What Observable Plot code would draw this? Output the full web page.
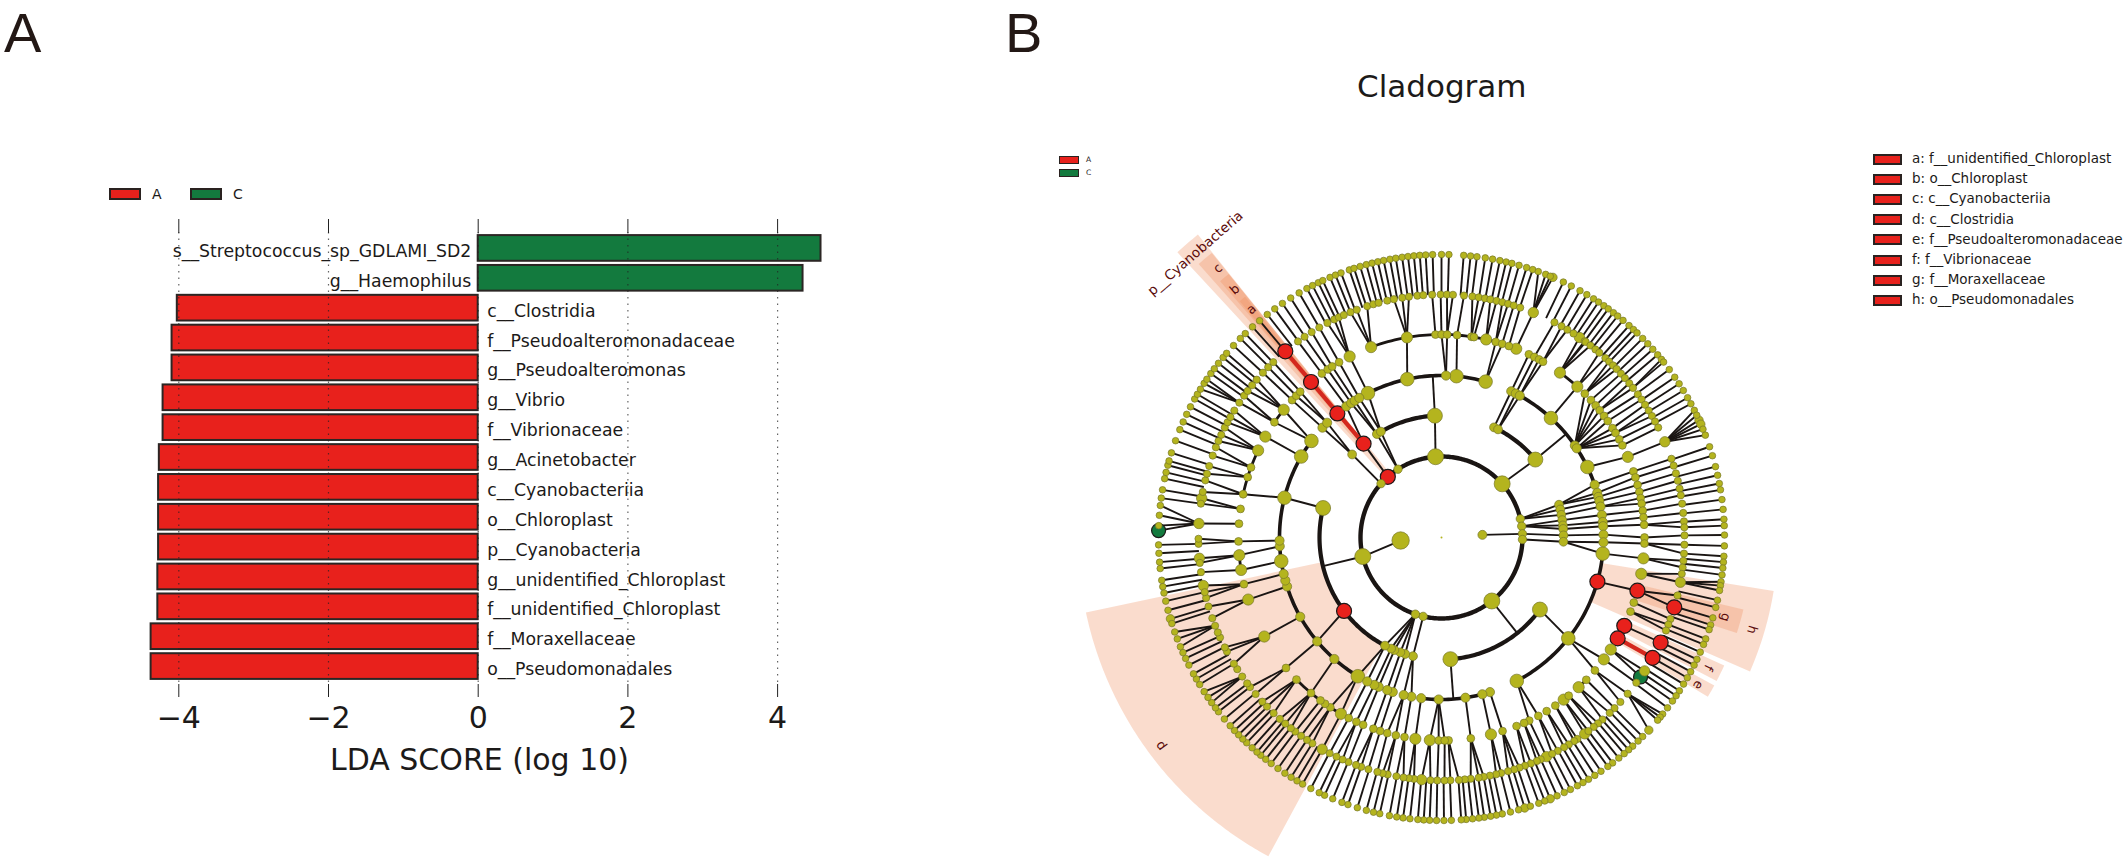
<!DOCTYPE html>
<html><head><meta charset="utf-8">
<script src="https://cdn.jsdelivr.net/npm/d3@7"></script>
<script src="https://cdn.jsdelivr.net/npm/@observablehq/plot@0.6"></script>
<style>
html,body{margin:0;padding:0;background:#fff;}
#page{position:relative;width:2125px;height:860px;overflow:hidden;font-family:"DejaVu Sans",sans-serif;color:#1c1a19;}
#page svg{position:absolute;top:0;background:transparent;}
.t{position:absolute;white-space:nowrap;line-height:1;}
.s{position:absolute;box-sizing:border-box;border:2px solid #2a2220;}
</style></head><body><div id="page"></div>
<script>
// ---------- Panel A: LDA scores ----------
const taxa = ["s__Streptococcus_sp_GDLAMI_SD2","g__Haemophilus","c__Clostridia","f__Pseudoalteromonadaceae","g__Pseudoalteromonas","g__Vibrio","f__Vibrionaceae","g__Acinetobacter","c__Cyanobacteriia","o__Chloroplast","p__Cyanobacteria","g__unidentified_Chloroplast","f__unidentified_Chloroplast","f__Moraxellaceae","o__Pseudomonadales"];
const ldaScores = [4.58,4.34,-4.02,-4.09,-4.09,-4.21,-4.21,-4.26,-4.27,-4.27,-4.27,-4.28,-4.28,-4.37,-4.37];
const ldaTicks = [-4,-2,0,2,4];
const groupColors = {A:"#e8211c", C:"#137a3e"};

// ---------- Panel B: cladogram nodes, by ring, angle in degrees clockwise from top ----------
const ring1 = [-94.2,86.3];
const ring2 = [-166.9,-161.2,-103.6,-48.3,-41.5,-32.5,-4.2,48.5,76.7,82,87.4,91.4,141.6];
const ring3 = [-166.5,-162.7,-160.3,-157.3,-155.6,-152.4,-127,-76,-47.1,-39.7,-32,-29.8,-3.1,25.5,27.6,50.3,74.4,76.7,79.3,81.8,84.3,86,89,92,126.2,175.8];
const ring4 = [-179,-172.8,-169.3,-166.5,-162.5,-160.4,-157.2,-155.5,-152.7,-148.9,-138.6,-129.9,-119.3,-107.6,-105.4,-103,-98.4,-93.1,-91.1,-75.8,-60,-53.4,-47.3,-44.9,-40,-36,-33.9,-32.4,-30.5,-27,-12.2,1.6,5.3,15.8,25.5,27.3,28.9,42.5,55.4,56.6,64.2,71,74,75.5,77,79,82,84.5,86,89,91.7,95.7,105.8,128.5,152.3,162.6,165.4,171.5];
const ring5 = [-179.2,-176.7,-172.6,-169.5,-167,-164.5,-162.4,-160.4,-157.3,-155.2,-152.8,-150.3,-146.8,-145,-143.4,-140,-134.4,-130,-119.2,-107.8,-103.3,-99.2,-95,-91.1,-86.1,-81.9,-77.7,-72.7,-69.8,-64.6,-60.2,-55.4,-51,-47.4,-45.7,-44.1,-40,-36.1,-34.1,-32.6,-30.3,-26.9,-20.3,-9.8,-1.7,0,1.6,4.4,8.5,9.2,12.7,15.5,17.4,19.4,21.6,25.5,27.2,28.7,30,35.7,42,44.9,47.4,49.4,51.2,53.2,55,57.4,59,61.1,63,66.6,71,72.8,75,77,78.8,80.4,82.4,84.3,86.4,90,91.7,95.9,100.3,105.2,108.7,111.4,115.8,119.8,123.5,126.9,130.9,134.5,137.5,141.2,143,145.9,148.8,151.5,154.4,156,158.3,162.5,165.9,171.7,178,179.1];
const ring6 = [-179,-177.4,-175.3,-173.5,-172.3,-171,-169.3,-167.2,-166,-164.7,-162.5,-160.7,-159.4,-157.5,-156,-154.4,-152.6,-150.6,-147.9,-146.4,-144.7,-143,-141.7,-140,-138.3,-136.3,-134.1,-132.5,-130.1,-128,-126.9,-124.9,-122.8,-121.3,-118,-116.9,-114.3,-113,-111.3,-109.4,-106.5,-104.4,-103,-101.4,-98.2,-96,-94.9,-91.5,-90.3,-86.7,-82,-80.7,-79.2,-76.4,-74.8,-72.9,-70.3,-68.2,-66.6,-65,-63.1,-61.7,-60.3,-58.5,-56.3,-54.3,-52.9,-51.2,-49.5,-47.3,-45.5,-43.8,-40,-36.2,-34.3,-32.3,-30.2,-28,-26.2,-25,-23.7,-22,-20.4,-17.8,-16.3,-15,-12.9,-11.3,-9.3,-7.7,-5.7,-4.3,-2.2,-0.2,1.3,2.7,5.3,7.3,8.8,10.3,11.6,13.1,14.5,15.9,17.3,18.9,22.2,27.7,29.6,31.2,32.9,34.6,36.1,36.4,37.8,39.3,40.5,42.4,43.6,44.9,46.1,47.6,49,50.6,52,53.9,55.4,56.9,58.5,60,61.5,63.1,66.8,71.1,72.8,74.7,76.5,78.4,80,82,84.2,86.2,87.6,89.5,91.7,93.8,95.5,97.1,98.6,100.6,103.8,106.7,109.6,111,112.5,115.6,119.7,123.3,125,126.7,130,132.6,134.6,136.2,138.5,139.9,141.2,142.8,143.9,146,146.9,148.4,149.7,151.4,152.9,154.4,155.9,156.9,158.4,159.9,161.3,162.6,164.1,165.8,167,168.5,170,171.2,173.1,174.5,175.9,177.9,179.3];
const ring7 = [-179,-177.6,-176.4,-175.2,-173.6,-172.2,-170.9,-169.4,-167.4,-166.1,-164.6,-162.7,-160.7,-159.4,-157.4,-155.6,-154.4,-152.5,-150.6,-149.3,-147.9,-146.4,-144.7,-143,-141.6,-140.3,-139.3,-138,-136.5,-135.4,-134.2,-133,-131.7,-129.9,-128,-127,-125.7,-124.4,-123,-121.3,-120,-118.8,-116.8,-115.3,-114,-112.7,-111,-109.5,-107.7,-106.7,-104.9,-103,-101.3,-100,-98.7,-96.3,-95,-93.2,-91.5,-88.6,-87.6,-85.5,-83.5,-82,-80.3,-78,-76.7,-75.2,-74.3,-72.6,-70,-67.6,-65.9,-64.2,-62.5,-60.7,-59.6,-58.4,-57,-56,-54.6,-53.4,-52,-50.5,-49.4,-47.3,-45.3,-43.9,-41.9,-40,-38,-36.1,-34.2,-32.2,-30.2,-28.4,-27.1,-25.8,-24.8,-23.2,-22,-20.8,-19,-18,-16.7,-15.4,-14.2,-13,-11.8,-10.5,-9.3,-8,-6.8,-5.6,-4.4,-3.2,-1.8,0,1.5,4.5,5.9,7.2,8.9,10.4,11.9,13.2,14.4,15.9,17.5,18.8,20,21.6,22.6,23.2,25.5,27.3,29.3,30.9,32.5,33.7,35,36.1,37.4,38.5,39.9,41.5,42.7,43.7,45.3,46.8,48.3,49.8,51,51.7,53.6,55.5,57.1,58.7,60.4,61.8,63.3,64.4,65.5,66.4,67.5,68.8,71.3,73.2,75.5,77.3,79,80.3,82.3,84.3,86.3,87.6,89.5,91.7,93.8,95,96.2,97.6,99,99.8,100.8,102.8,104.3,106.5,108,109,111,112.2,113.9,115.5,116.8,118.3,119.7,121.2,122.8,124,125.3,127,128.6,129.4,130.2,132.9,134.7,136,137.5,138.6,139.8,141.2,142.8,144,145.7,147.2,148.7,150,151.3,152.9,154.3,155.9,157.4,158.6,159.9,161.7,162.9,164.2,165.9,167.6,168.8,170,171.3,172.4,173.7,175,176,178,179.5];
const rings = [ring1,ring2,ring3,ring4,ring5,ring6,ring7];
const largeNodes = [[-94.2],[-103.6,-4.2,48.5,141.6],[-76,50.3,126.2,-3.1,175.8],[15.8,42.5,64.2,-148.9,-98.4,128.5,5.3,-75.8,-27,-12.2,152.3,95.7,-53.4,-60],[21.6,35.7,42,66.6,-150.3,-95,-99.2,-107.8,-119.2,100.3,123.5,137.5,143,165.9,-172.6,-176.7,12.7,-26.9,-20.3,-9.8,-64.6,-60.2,-51,95.9,126.9],[-94.9,-101.4,-86.7,-150.6,22.2,66.8,34.6,100.6,123.3,143.9,-175.3,154.4,-80.7],[162.9,157.4,-106.7,65.5,66.4,23.2,132.9]];
const redNodes = [[],[-41.5],[-39.7,-127],[-40,105.8],[-40,105.2,115.8,119.8],[-40,106.7,115.6,119.7],[]];
const greenNodes = [[],[],[],[],[],[125],[-88.6]];
const ringArcs = [[],[[0,360]],[[-152.4,-76],[-32,-3.1],[25.5,50.3],[126.2,175.8]],[[-149,-53.4],[-27,15.8],[25.5,71],[95.7,152.3],[162.6,187.2]],[[-20.3,21.6],[-55.4,-51],[-77.7,-64.6],[35.7,42],[-150.3,-134.4],[134.5,137.5],[-99.2,-95]],[],[]];
// [child ring index, parent angle, first child angle, last child angle]
const fans = [[6,66.8,63.3,68.8],[6,-86.7,-88.6,-83.5],[6,22.2,20,23.2],[6,130,128.6,132.9],[6,-56.3,-58.4,-56],[6,-111.3,-112.7,-109.5],[6,-124.9,-125.7,-123],[6,100.6,99,100.8],[6,52,51,51.7],[4,55.4,44.9,53.2],[4,56.6,55,63],[2,76.7,74.4,79.3],[2,82,81.8,86],[2,-161.2,-160.3,-152.4]];
const rootLinks = [[-103.6,-94.2],[87.4,86.3]];
const highlightLinks = [[2,5,-39.7,-40],[4,5,119.8,119.7]];
const sectors = [["p",-151.6,-102,122,363],["h",99.2,113.5,162,337],["g",103.5,108,203,311],["f",114.4,117.6,203,311],["e",118.5,120.9,203,311],["p_Cyano",-42.8,-38.8,81,388],["c",-41.6,-38.9,122,365],["b",-40.8,-38.9,162,338],["a",-40.5,-39.2,203,310]];
const cladeNames = ["p","h","g","f","e","a","b","c","p__Cyanobacteria"];
const cladeAngles = [-126.6,106.5,105.7,116,119.9,-39.8,-39.8,-39.7,-40.9];
const cladeRadii = [350,324,295,297,296,297,323,350,376];
const cladeKey = ["a: f__unidentified_Chloroplast","b: o__Chloroplast","c: c__Cyanobacteriia","d: c__Clostridia","e: f__Pseudoalteromonadaceae","f: f__Vibrionaceae","g: f__Moraxellaceae","h: o__Pseudomonadales"];

// ---------- Panel A drawing ----------
const rowsA = taxa.map((name,i)=>({name,score:ldaScores[i],group:ldaScores[i]>0?"C":"A"}));
const A = Plot.plot({
  width:1000,height:860,marginTop:232,marginBottom:176,marginLeft:0,marginRight:42,
  x:{domain:[-4,4],range:[178.3,777.1],label:null},
  y:{domain:taxa,range:[233,681],paddingInner:0.14,paddingOuter:0.07,round:false,axis:null},
  style:{background:"transparent",fontFamily:"DejaVu Sans",color:"#1c1a19"},
  marks:[
    Plot.barX(rowsA,{x1:0,x2:"score",y:"name",fill:d=>groupColors[d.group],stroke:"#2b2624",strokeWidth:2}),
    Plot.gridX(ldaTicks,{stroke:"#222",strokeOpacity:0.7,strokeDasharray:"1.5 5",strokeWidth:1.2}),
    Plot.axisX(ldaTicks,{anchor:"top",tickSize:14,tickFormat:()=>"",label:null,stroke:"#222"}),
    Plot.axisX(ldaTicks,{anchor:"bottom",tickSize:13,tickPadding:9,fontSize:30,label:"LDA SCORE (log 10)",labelAnchor:"center",labelArrow:"none",labelOffset:85,stroke:"#222"}),
    Plot.text(rowsA.filter(d=>d.score>0),{x:0,y:"name",text:"name",dx:-7,dy:3,textAnchor:"end",fontSize:17.3,fill:"#1c1a19"}),
    Plot.text(rowsA.filter(d=>d.score<0),{x:0,y:"name",text:"name",dx:9,dy:3,textAnchor:"start",fontSize:17.3,fill:"#1c1a19"})
  ]
});
// ---------- Panel B drawing ----------
const radii = [41,81,122,162,203,243,283];
const pol = (r,a)=>{const t=a*Math.PI/180;return [r*Math.sin(t),-r*Math.cos(t)];};
const adiff = (a,b)=>{const d=Math.abs(a-b)%360;return d>180?360-d:d;};
const covered = (lvl,a)=>ringArcs[lvl].some(([s,e])=>((a-s)%360+360)%360<=e-s);
const linkThresh = [0,0,4,4,2.5,2.5,99];
const links=[];
const linkedParents = rings.map(()=>new Set());
const seg=(r1,a1,r2,a2)=>{const [x1,y1]=pol(r1,a1),[x2,y2]=pol(r2,a2);links.push({x1,y1,x2,y2});};
rootLinks.forEach(([c,p])=>{seg(radii[1],c,radii[0],p);linkedParents[0].add(p);});
rings.forEach((angles,k)=>{ if(k===0) return;
  for(const a of angles){
    const fan=fans.find(([ck,p,s,e])=>ck===k&&a>=s&&a<=e);
    if(fan){seg(radii[k],a,radii[k-1],fan[1]);linkedParents[k-1].add(fan[1]);continue;}
    const p = rings[k-1].reduce((m,b)=>adiff(a,b)<adiff(a,m)?b:m);
    if(k===6){seg(radii[k],a,radii[k-1],a);linkedParents[k-1].add(p);continue;}
    if(adiff(a,p)<=linkThresh[k]){seg(radii[k],a,radii[k-1],p);linkedParents[k-1].add(p);}
  }
});
rings.forEach((angles,k)=>{ if(k===6) return;
  for(const a of angles){
    if(!linkedParents[k].has(a) && covered(k+1,a)) seg(radii[k],a,radii[k+1],a);
  }
});
const arcWidth=[0,4.4,4.2,3.6,2.8,0,0];
const arcPts=[];
ringArcs.forEach((arcs,k)=>arcs.forEach(([s,e],i)=>{
  for(let a=s;;a=Math.min(e,a+1)){const [x,y]=pol(radii[k],a);arcPts.push({x,y,id:k+"-"+i,w:arcWidth[k]}); if(a>=e)break;}
}));
const sectorPts=[];
sectors.forEach(([id,s,e,r1,r2])=>{
  for(let a=s;;a=Math.min(e,a+0.5)){const [x1,y1]=pol(r1,a),[x2,y2]=pol(r2,a);sectorPts.push({x1,y1,x2,y2,id}); if(a>=e)break;}
});
const nodeRadius=[[4.5,8.7],[4.2,8],[4.4,7.5],[4.6,6.8],[3.9,5.6],[3.6,5.2],[3.3,4.2]];
const nodes=[];
rings.forEach((angles,k)=>angles.forEach(a=>{
  const red=redNodes[k].includes(a),green=greenNodes[k].includes(a);
  let r=nodeRadius[k][largeNodes[k].includes(a)?1:0];
  if(red) r=7.5; if(green) r=7;
  const [x,y]=pol(radii[k],a);
  nodes.push({x,y,r,fill:red?groupColors.A:green?groupColors.C:"#b4b41e",stroke:(red||green)?"#1c1a19":"#77772a",sw:(red||green)?1.2:0.7});
}));
const hl = highlightLinks.map(([k1,k2,a1,a2])=>{const [x1,y1]=pol(radii[k1],a1),[x2,y2]=pol(radii[k2],a2);return {x1,y1,x2,y2};});
const labels = cladeNames.map((t,i)=>{const [x,y]=pol(cladeRadii[i],cladeAngles[i]);return {t,x,y,rot:cladeAngles[i]};});
const B = Plot.plot({
  width:1125,height:860,margin:0,
  x:{domain:[-441,684],range:[0,1125],axis:null},
  y:{domain:[-537,323],range:[0,860],axis:null},
  r:{type:"identity"},
  style:{background:"transparent",fontFamily:"DejaVu Sans"},
  marks:[
    Plot.area(sectorPts,{x1:"x1",y1:"y1",x2:"x2",y2:"y2",z:"id",fill:"#f08a5a",fillOpacity:0.3}),
    Plot.link(links,{x1:"x1",y1:"y1",x2:"x2",y2:"y2",stroke:"#1a1513",strokeWidth:1.9}),
    Plot.line(arcPts,{x:"x",y:"y",z:"id",stroke:"#1a1513",strokeWidth:"w",curve:"linear"}),
    Plot.link(hl,{x1:"x1",y1:"y1",x2:"x2",y2:"y2",stroke:"#d4281e",strokeWidth:4.2}),
    Plot.dot(nodes,{x:"x",y:"y",r:"r",fill:"fill",stroke:"stroke",strokeWidth:"sw"}),
    Plot.dot([{x:0,y:0}],{x:"x",y:"y",r:1,fill:"#b4b41e"}),
    Plot.text(labels.filter(d=>d.t.length===1),{x:"x",y:"y",text:"t",rotate:"rot",fontSize:13,fill:"#5c0c0c"}),
    Plot.text(labels.filter(d=>d.t.length>1),{x:"x",y:"y",text:"t",rotate:"rot",fontSize:13.6,fill:"#5c0c0c"})
  ]
});
// ---------- Page assembly ----------
const page=document.getElementById("page");
A.style.left="0px"; B.style.left="1000px";
page.append(A,B);
const text=(s,x,y,size,extra={})=>{const d=document.createElement("div");d.className="t";d.textContent=s;Object.assign(d.style,{left:x+"px",top:y+"px",fontSize:size+"px"},extra);page.append(d);return d;};
const swatch=(x,y,w,h,c,bw=2)=>{const d=document.createElement("div");d.className="s";Object.assign(d.style,{left:x+"px",top:y+"px",width:w+"px",height:h+"px",background:c,borderWidth:bw+"px"});page.append(d);};
text("A",4,0,56,{fontFamily:"Liberation Sans",color:"#231815",lineHeight:"normal"});
text("B",1005,0,56,{fontFamily:"Liberation Sans",color:"#231815",lineHeight:"normal"});
swatch(109,188,32,12,groupColors.A); text("A",152,187,14);
swatch(190,188,32,12,groupColors.C); text("C",233,187,14);
swatch(1059,156,20,8,groupColors.A,1.5); text("A",1086,156,7.5);
swatch(1059,169,20,8,groupColors.C,1.5); text("C",1086,169,7.5);
text("Cladogram",1357,71,31);
cladeKey.forEach((s,i)=>{const y=159+i*20.2; swatch(1873,y-5.5,29,11,groupColors.A); text(s,1912,y-7,13.5);});
</script></body></html>
